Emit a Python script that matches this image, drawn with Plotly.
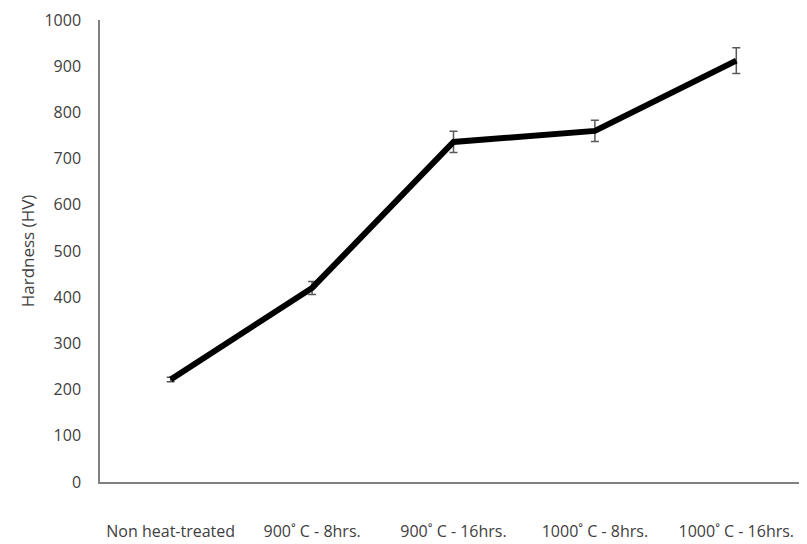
import plotly.graph_objects as go

categories = ["Non heat-treated", "900˚ C - 8hrs.", "900˚ C - 16hrs.", "1000˚ C - 8hrs.", "1000˚ C - 16hrs."]
hardness = [222, 420, 736, 760, 912]
errors = [5, 14, 23, 23, 28]
y_ticks = [0, 100, 200, 300, 400, 500, 600, 700, 800, 900, 1000]

fig = go.Figure()
fig.add_trace(go.Scatter(
    x=categories, y=hardness, mode="lines",
    line=dict(color="black", width=6),
    error_y=dict(type="data", array=errors, visible=True, color="#595959", thickness=1.5, width=4),
    showlegend=False,
))

font = dict(family="Open Sans, Liberation Sans, sans-serif", size=16, color="#404040")
fig.update_layout(
    width=799, height=536,
    margin=dict(l=92, r=0, t=12, b=62),
    plot_bgcolor="white", paper_bgcolor="white",
    font=font,
)
fig.update_xaxes(
    type="category", range=[-0.5, len(categories) - 0.5],
    showgrid=False, showline=True, linecolor="#808080", linewidth=1.5,
    ticks="", ticklabelstandoff=34, tickfont=dict(size=16), automargin=False,
)
fig.update_yaxes(
    range=[0, 1000], tickvals=y_ticks, showgrid=False, showline=True, linecolor="#808080", linewidth=1.5,
    ticks="", ticklabelstandoff=14, zeroline=False, automargin=False, tickfont=dict(size=16),
    ticklabeloverflow="allow",
    title=dict(text="Hardness (HV)", standoff=6, font=dict(size=17)),
)
fig.write_html("out.html")
